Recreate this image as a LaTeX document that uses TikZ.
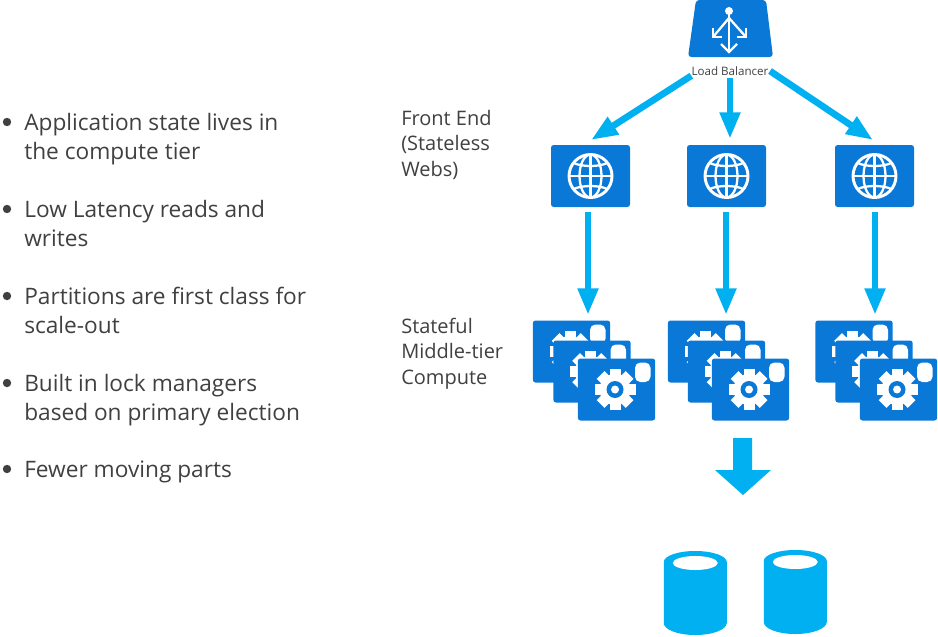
\documentclass[tikz,border=0pt]{standalone}
\usepackage{fontspec}
\setmainfont{Open Sans}
\usetikzlibrary{arrows.meta,calc}
\definecolor{tileblue}{RGB}{10,120,215}
\definecolor{flowcyan}{RGB}{0,176,240}
\definecolor{copygray}{RGB}{64,64,64}
\tikzset{
  webtile/.style={
    fill=tileblue,
    rounded corners=2pt,
    minimum width=59.25pt,
    minimum height=46.5pt,
    inner sep=0pt,
    outer sep=0pt
  },
  gearbox/.style={
    webtile,
    minimum width=58pt,
    minimum height=46.5pt
  },
  flow/.style={
    draw=flowcyan,
    line width=5pt,
    -{Triangle[width=14.5pt,length=20pt]}
  },
  bulletcopy/.style={
    anchor=base west,
    align=left,
    inner sep=0pt,
    text=copygray,
    font=\fontsize{17pt}{21.75pt}\selectfont
  },
  tiercopy/.style={
    anchor=base west,
    align=left,
    inner sep=0pt,
    text=copygray,
    font=\fontsize{15pt}{19pt}\selectfont
  },
  iconline/.style={draw=white, line width=1.7pt},
  dbfill/.style={fill=flowcyan}
}
\newcommand{\globeicon}[1]{%
  \begin{scope}[shift={(#1)}]
    \draw[iconline, line width=2.2pt] (0,0) circle (21.5);
    \draw[iconline] (0,0) ellipse (11 and 21.5);
    \draw[iconline] (0,-21.5) -- (0,21.5);
    \draw[iconline] (-21.5,0) -- (21.5,0);
    \draw[iconline] (-17,-13) .. controls (-8,-9) and (8,-9) .. (17,-13);
    \draw[iconline] (-17,13) .. controls (-8,9) and (8,9) .. (17,13);
  \end{scope}
}
\newcommand{\appcard}[2]{%
  \node[gearbox] (#1) at (#2) {};
  \begin{scope}[shift={(#1.center)}]
    \fill[white, rounded corners=4pt] (18.5,-27) rectangle (34,-7.5);
    \begin{scope}[xshift=-1.1pt]
      \foreach \a in {0,45,...,315} {
        \fill[white, rotate=\a] (-5.5,-20.5) rectangle (5.5,0);
      }
      \fill[white] (0,0) circle (15.5);
      \fill[tileblue] (0,0) circle (8.5);
      \fill[white] (0,0) circle (4);
    \end{scope}
  \end{scope}
}
\newcommand{\dbcan}[3]{%
  \fill[dbfill] (#1-31.5,#2+11) arc[start angle=180, end angle=0, x radius=31.5, y radius=-11]
    -- (#1+31.5,#3-12) arc[start angle=0, end angle=-180, x radius=31.5, y radius=-12] -- cycle;
  \fill[white] (#1,#2+12) ellipse (22.5 and 7);
}

\begin{document}
\begin{tikzpicture}[x=0.75pt,y=-0.75pt]
  \useasboundingbox (0,0) rectangle (938,636);
  % bullet list
  \foreach \yy/\txt in {159/{Application state lives in\\the compute tier},
      246/{Low Latency reads and\\writes},
      333/{Partitions are first class for\\scale-out},
      420/{Built in lock managers\\based on primary election},
      477/{Fewer moving parts}} {
    \node[bulletcopy] at (24,\yy) {\txt};
  }
  \foreach \yy in {122,209,296,383,469} {
    \fill[copygray] (7,\yy) circle (4.2);
  }
  % tier labels
  \node[tiercopy] (frontlabel) at (401,176) {Front End\\(Stateless\\Webs)};
  \node[tiercopy] (middlelabel) at (401,384) {Stateful\\Middle-tier\\Compute};
  % load balancer
  \fill[tileblue, rounded corners=2.5pt] (696,0) -- (766,0) -- (773,57) -- (688,57) -- cycle;
  \fill[white] (729,11) circle (4);
  \draw[iconline] (729,11) -- (729,51);
  \draw[iconline] (729,18) -- (713,37);
  \draw[iconline] (729,18) -- (746,37);
  \draw[iconline] (721,44) -- (729,52) -- (737,44);
  \draw[iconline] (713,28) -- (713,37) -- (722,37);
  \draw[iconline] (746,28) -- (746,37) -- (737,37);
  \node[text=copygray, font=\fontsize{8.7pt}{9pt}\selectfont, inner sep=0pt] (lblabel) at (730,71) {Load Balancer};
  % web tier
  \node[webtile] (web1) at (590.5,176) {};
  \node[webtile] (web2) at (726.5,176) {};
  \node[webtile] (web3) at (874.5,176) {};
  \globeicon{web1.center}
  \globeicon{web2.center}
  \globeicon{web3.center}
  \coordinate (tip1) at (591,140);
  \coordinate (tip3) at (873,140);
  \draw[flow] (lblabel.south west) -- (tip1);
  \draw[flow, shorten >=4.5pt, shorten <=2pt] (lblabel.south) -- (lblabel.south |- web2.north);
  \draw[flow] ([xshift=1pt]lblabel.east) -- (tip3);
  % stateful tier
  \appcard{card1a}{571.5,351.5}
  \appcard{card1b}{592,371.5}
  \appcard{card1c}{616.5,389.5}
  \appcard{card2a}{706.5,351.5}
  \appcard{card2b}{726.5,371.5}
  \appcard{card2c}{750.5,389.5}
  \appcard{card3a}{854,351.5}
  \appcard{card3b}{874,371.5}
  \appcard{card3c}{898.5,389.5}
  \coordinate (in1) at (588,315);
  \coordinate (in2) at (726,315);
  \coordinate (in3) at (875,315);
  \draw[flow, shorten <=4pt] (web1.south -| in1) -- (in1);
  \draw[flow, shorten <=4pt] (web2.south -| in2) -- (in2);
  \draw[flow, shorten <=4pt] (web3.south -| in3) -- (in3);
  % down to storage
  \fill[flowcyan] (733,438) -- (752,438) -- (752,470) -- (771,470) -- (743,495) -- (715,470) -- (733,470) -- cycle;
  \dbcan{695.25}{551}{635}
  \dbcan{795.25}{550}{634}
\end{tikzpicture}
\end{document}
